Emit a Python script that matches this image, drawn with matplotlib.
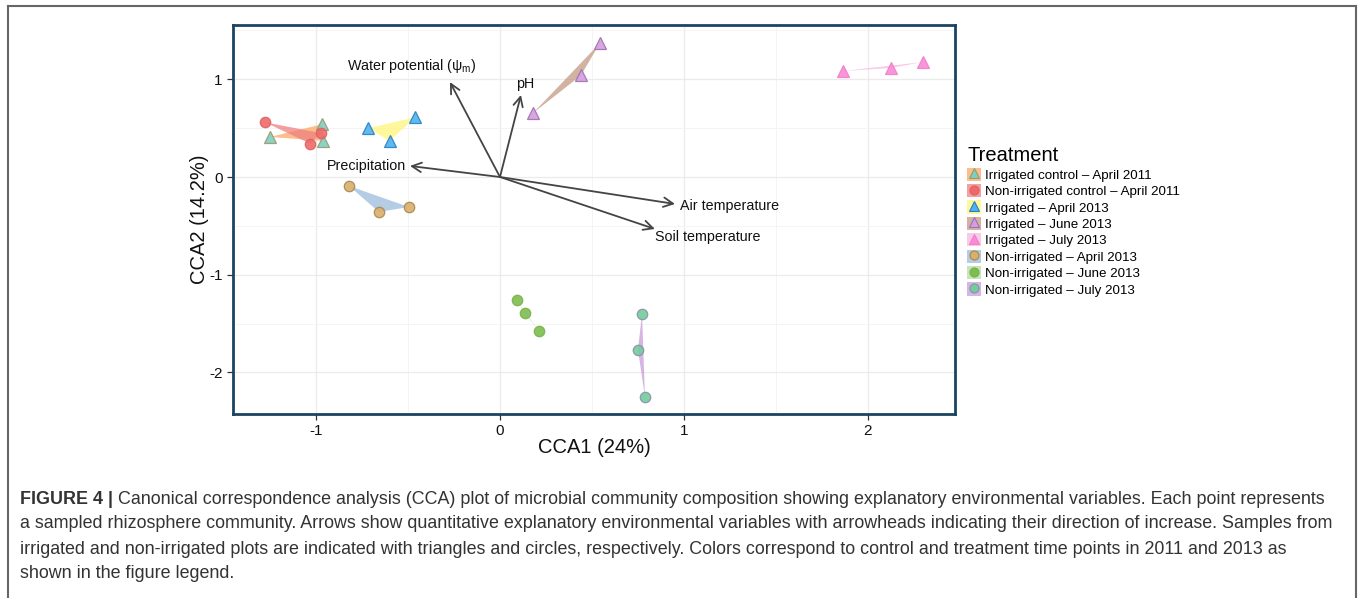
import matplotlib
matplotlib.use("Agg")
import matplotlib.pyplot as plt
from matplotlib.patches import Patch, Polygon
from matplotlib.lines import Line2D

plt.rcParams['font.family'] = ['Liberation Sans', 'DejaVu Sans']
plt.rcParams['mathtext.fontset'] = 'custom'
plt.rcParams['mathtext.rm'] = 'Liberation Sans'
plt.rcParams['axes.unicode_minus'] = False

# sample scores per treatment group (CCA1, CCA2)
groups = [
    "Irrigated control \u2013 April 2011",
    "Non-irrigated control \u2013 April 2011",
    "Irrigated \u2013 April 2013",
    "Irrigated \u2013 June 2013",
    "Irrigated \u2013 July 2013",
    "Non-irrigated \u2013 April 2013",
    "Non-irrigated \u2013 June 2013",
    "Non-irrigated \u2013 July 2013",
]
cca1 = [
    [-1.25, -0.967, -0.962],
    [-1.277, -1.03, -0.973],
    [-0.717, -0.46, -0.60],
    [0.543, 0.44, 0.18],
    [1.864, 2.125, 2.30],
    [-0.82, -0.658, -0.495],
    [0.092, 0.136, 0.212],
    [0.772, 0.75, 0.788],
]
cca2 = [
    [0.41, 0.54, 0.37],
    [0.56, 0.34, 0.45],
    [0.50, 0.61, 0.37],
    [1.37, 1.04, 0.655],
    [1.085, 1.116, 1.177],
    [-0.092, -0.358, -0.307],
    [-1.26, -1.39, -1.576],
    [-1.40, -1.77, -2.25],
]
shapes = ["^", "o", "^", "^", "^", "o", "o", "o"]
point_colors = ["#7ECFC0", "#EE6A6A", "#4DB3F0", "#D49EE0",
                "#F98AD6", "#D8B06A", "#80BD50", "#73CC9E"]
edge_colors = ["#9A9A70", "#E06060", "#2A80C0", "#A070B0",
               "#F080C8", "#A88550", "#78B048", "#8A90A8"]
hull_colors = ["#FBAA66", "#EE8080", "#FFF57A", "#C49A82",
               "#F9B8E0", "#9DBCDD", "#B6DCA6", "#C89CD8"]

# environmental vectors
env_names = ["Water potential (\u03c8$_{\\rm m}$)", "pH", "Precipitation",
             "Air temperature", "Soil temperature"]
env_x = [-0.272, 0.114, -0.489, 0.951, 0.842]
env_y = [0.972, 0.84, 0.113, -0.276, -0.532]
label_x = [-0.478, 0.136, -0.51, 0.978, 0.842]
label_y = [1.136, 0.95, 0.113, -0.297, -0.614]
label_ha = ["center", "center", "right", "left", "left"]

fig = plt.figure(figsize=(13.6, 5.98), dpi=100)
ax = fig.add_axes([233 / 1360, 1 - 414 / 598, 722 / 1360, 389 / 598])

for i in range(len(groups)):
    pts = list(zip(cca1[i], cca2[i]))
    ax.add_patch(Polygon(pts, closed=True, facecolor=hull_colors[i],
                         edgecolor="none", alpha=0.75, zorder=2))
    ax.plot(cca1[i], cca2[i], linestyle="none", marker=shapes[i],
            markersize=7.5 if shapes[i] == "o" else 8.5,
            markerfacecolor=point_colors[i], markeredgecolor=edge_colors[i],
            markeredgewidth=0.9, alpha=0.9, zorder=4)

for i in range(len(env_names)):
    ax.annotate("", xy=(env_x[i], env_y[i]), xytext=(0, 0),
                arrowprops=dict(arrowstyle="->", color="#444444", lw=1.3,
                                mutation_scale=17, shrinkA=0, shrinkB=0),
                zorder=3)
    ax.text(label_x[i], label_y[i], env_names[i], ha=label_ha[i],
            va="center", fontsize=10.3, color="#111111", zorder=5)

ax.set_xlim(-1.451, 2.473)
ax.set_ylim(-2.426, 1.556)
ax.set_xticks([-1, 0, 1, 2])
ax.set_yticks([-2, -1, 0, 1])
ax.set_xticks([-0.5, 0.5, 1.5], minor=True)
ax.set_yticks([-1.5, -0.5, 0.5, 1.5], minor=True)
ax.tick_params(which="major", length=4, width=0.9, color="#333333",
               labelsize=11, labelcolor="#111111")
ax.tick_params(which="minor", length=0)
ax.grid(which="major", color="#EBEBEB", lw=0.9)
ax.grid(which="minor", color="#F4F4F4", lw=0.7)
ax.set_axisbelow(True)
for s in ax.spines.values():
    s.set_color("#1B4463")
    s.set_linewidth(2)
ax.set_xlabel("CCA1 (24%)", fontsize=14.5, color="#111111", labelpad=0)
ax.set_ylabel("CCA2 (14.2%)", fontsize=14.5, color="#111111", labelpad=0)

handles = []
for i in range(len(groups)):
    box = Patch(facecolor=hull_colors[i], edgecolor="none", alpha=0.75)
    mk = Line2D([], [], linestyle="none", marker=shapes[i],
                markersize=6.5 if shapes[i] == "o" else 7.5,
                markerfacecolor=point_colors[i],
                markeredgecolor=edge_colors[i], markeredgewidth=0.8)
    handles.append((box, mk))
leg = fig.legend(handles, groups, loc="upper left",
                 bbox_to_anchor=(958 / 1360, 1 - 137 / 598),
                 frameon=False, title="Treatment", fontsize=9.6,
                 title_fontsize=14.5, handlelength=1.05, handleheight=1.15,
                 handletextpad=0.25, labelspacing=0.17, borderpad=0.2,
                 alignment="left")

# figure caption
cap = [
    "Canonical correspondence analysis (CCA) plot of microbial community composition showing explanatory environmental variables. Each point represents",
    "a sampled rhizosphere community. Arrows show quantitative explanatory environmental variables with arrowheads indicating their direction of increase. Samples from",
    "irrigated and non-irrigated plots are indicated with triangles and circles, respectively. Colors correspond to control and treatment time points in 2011 and 2013 as",
    "shown in the figure legend.",
]
cap_fs = 12.9
bold = fig.text(20 / 1360, 1 - 499 / 598, "FIGURE 4 |", fontsize=cap_fs,
                fontweight="bold", color="#333333", va="center")
fig.canvas.draw()
bb = bold.get_window_extent()
fig.text((bb.x1 + 5) / 1360, 1 - 499 / 598, cap[0], fontsize=cap_fs,
         color="#333333", va="center")
for k in range(1, 4):
    fig.text(20 / 1360, 1 - (499 + 25 * k) / 598, cap[k], fontsize=cap_fs,
             color="#333333", va="center")

# outer frame
fc = "#666666"
fig.add_artist(Line2D([8 / 1360, 1356 / 1360], [1 - 6 / 598] * 2, color=fc, lw=1.5))
fig.add_artist(Line2D([8 / 1360] * 2, [0, 1 - 6 / 598], color=fc, lw=1.5))
fig.add_artist(Line2D([1356 / 1360] * 2, [0, 1 - 6 / 598], color=fc, lw=1.5))

fig.savefig("out.png", dpi=100)
